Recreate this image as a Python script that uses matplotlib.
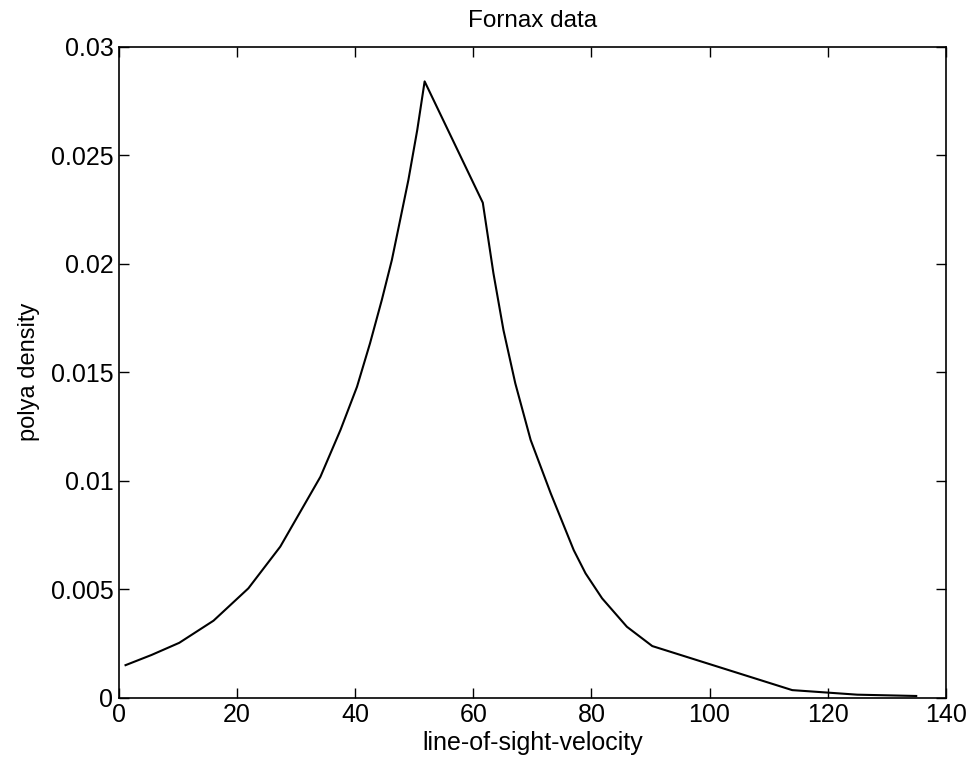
import matplotlib
matplotlib.use('Agg')
import matplotlib.pyplot as plt

# polya density estimate
velocity = [1.1, 5.5, 10.2, 16.0, 21.9, 27.3, 34.1, 37.5, 40.3, 42.5, 44.5,
            46.2, 47.6, 49.0, 50.5, 51.75, 61.6, 63.4, 65.1, 67.1, 69.7, 73.1,
            77.0, 79.0, 81.8, 86.0, 90.3, 114.0, 125.0, 135.0]
density = [0.00150, 0.00197, 0.00253, 0.00355, 0.00504, 0.00696, 0.01018,
           0.01234, 0.01433, 0.01633, 0.01833, 0.02017, 0.02201, 0.02386,
           0.02616, 0.02840, 0.02281, 0.01956, 0.01694, 0.01449, 0.01188,
           0.00942, 0.00680, 0.00573, 0.00458, 0.00327, 0.00238, 0.00035,
           0.00014, 0.00008]

xticks = [0, 20, 40, 60, 80, 100, 120, 140]
yticks = [0, 0.005, 0.01, 0.015, 0.02, 0.025, 0.03]
yticklabels = ['0', '0.005', '0.01', '0.015', '0.02', '0.025', '0.03']

plt.rcParams['font.family'] = ['Liberation Sans', 'DejaVu Sans']

fig = plt.figure(figsize=(9.71, 7.69), dpi=100)
ax = fig.add_axes([0.1226, 0.0927, 0.8514, 0.8466])
ax.plot(velocity, density, color='black', linewidth=1.5)

ax.set_xlim(0, 140)
ax.set_ylim(0, 0.03)
ax.set_xticks(xticks)
ax.set_xticklabels([str(t) for t in xticks])
ax.set_yticks(yticks)
ax.set_yticklabels(yticklabels)
ax.tick_params(direction='in', top=True, right=True, length=7, width=1,
               labelsize=18, pad=4)
for s in ax.spines.values():
    s.set_linewidth(1.2)

ax.set_xlabel('line-of-sight-velocity', fontsize=18, labelpad=3)
ax.set_ylabel('polya density', fontsize=17, labelpad=8)
ax.set_title('Fornax data', fontsize=17.5, pad=14)

fig.savefig('out.png', dpi=100)
